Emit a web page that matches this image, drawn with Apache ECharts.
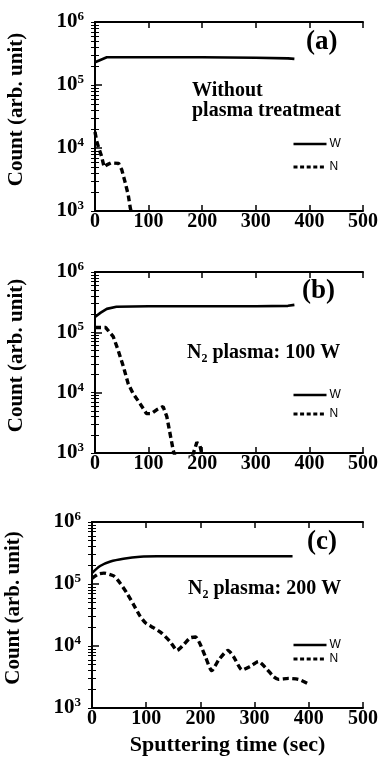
<!DOCTYPE html>
<html>
<head>
<meta charset="utf-8">
<script src="https://cdn.jsdelivr.net/npm/echarts@6/dist/echarts.min.js"></script>
<style>
  html, body { margin: 0; padding: 0; background: #fff; }
  #chart { width: 380px; height: 767px; }
</style>
</head>
<body>
<div id="chart"></div>
<script>
// [sputtering time (sec), count (arb. unit)]
const wA = [[0, 2.3e5], [10, 2.5e5], [22, 2.75e5], [100, 2.75e5], [200, 2.75e5], [300, 2.7e5], [360, 2.65e5], [372, 2.6e5]];
const nA = [[0, 1.8e4], [3, 1.3e4], [7, 1.0e4], [12, 7.5e3], [17, 5.0e3], [22, 5.4e3], [30, 5.8e3], [44, 5.7e3],
            [50, 4.5e3], [56, 2.9e3], [62, 1.8e3], [66, 1.1e3], [70, 800]];

const wB = [[0, 1.8e5], [10, 2.1e5], [22, 2.45e5], [40, 2.65e5], [100, 2.7e5], [200, 2.7e5], [300, 2.7e5], [360, 2.75e5], [372, 2.85e5]];
const nB = [[0, 1.2e5], [20, 1.2e5], [34, 8.5e4], [43, 5.1e4], [53, 2.7e4], [62, 1.4e4], [71, 9.7e3], [84, 6.6e3],
            [96, 4.5e3], [105, 4.5e3], [115, 5.2e3], [127, 5.9e3], [134, 4.0e3], [140, 2.1e3], [146, 1.1e3], [149, 900],
            [165, null],
            [182, 900], [190, 1.5e3], [196, 1.3e3], [200, 900]];

const wC = [[0, 1.5e5], [15, 1.95e5], [34, 2.3e5], [58, 2.55e5], [89, 2.75e5], [120, 2.8e5], [200, 2.8e5], [300, 2.8e5], [370, 2.8e5]];
const nC = [[0, 1.23e5], [12, 1.45e5], [22, 1.5e5], [40, 1.35e5], [52, 1.03e5], [65, 7.0e4], [77, 4.6e4], [89, 3.0e4],
            [100, 2.3e4], [114, 1.96e4], [129, 1.6e4], [144, 1.18e4], [157, 8.5e3], [169, 1.05e4], [181, 1.35e4],
            [191, 1.4e4], [200, 1.05e4], [209, 6.8e3], [221, 4.0e3], [234, 6.0e3], [251, 8.5e3], [261, 6.8e3],
            [277, 4.1e3], [292, 4.7e3], [307, 5.6e3], [323, 4.2e3], [335, 3.2e3], [344, 2.9e3], [363, 3.0e3],
            [381, 2.9e3], [397, 2.5e3]];

const seriesNames = ['W', 'N'];
const xTicks = [0, 100, 200, 300, 400, 500];
const yDecades = [1e3, 1e4, 1e5, 1e6];
const panelTags = ['(a)', '(b)', '(c)'];
const panelNotes = ['Without\nplasma treatmeat', '{n|N}{s|2}{n| plasma: 100 W}', '{n|N}{s|2}{n| plasma: 200 W}'];
const yName = 'Count (arb. unit)';
const xName = 'Sputtering time (sec)';

// minor log ticks (2..9 within each decade), expressed in log10 units
const logMinor = [];
const logAll = [];
for (let e = Math.log10(yDecades[0]); e < Math.log10(yDecades[yDecades.length - 1]); e++) {
  logAll.push(e);
  for (let k = 2; k <= 9; k++) { logMinor.push(e + Math.log10(k)); logAll.push(e + Math.log10(k)); }
}
logAll.push(Math.log10(yDecades[yDecades.length - 1]));

const SERIF = '"Liberation Serif", "Times New Roman", serif';
const SANS = '"Liberation Sans", Arial, sans-serif';

const solidStyle = { color: '#000', width: 2.6, type: 'solid' };
const dashStyle = { color: '#000', width: 3.4, type: [6, 3.5] };

const layout = [
  { grid: { left: 95, top: 22, width: 268, height: 189 }, legendTop: 138, legendGap: 11,
    tag: { left: 306, top: 29 }, note: { left: 192, top: 81 } },
  { grid: { left: 95, top: 272, width: 268, height: 181 }, legendTop: 389, legendGap: 7,
    tag: { left: 302, top: 278 }, note: { left: 187, top: 343 } },
  { grid: { left: 92, top: 522, width: 271, height: 186 }, legendTop: 639, legendGap: 2,
    tag: { left: 307, top: 529 }, note: { left: 188, top: 579 } }
];
const data = [[wA, nA], [wB, nB], [wC, nC]];

const grids = [], xAxes = [], yAxes = [], series = [], legends = [], graphics = [];

layout.forEach((p, i) => {
  grids.push(Object.assign({ show: false, outerBoundsMode: 'none', containLabel: false }, p.grid));

  // bottom axis with labels
  xAxes.push({
    type: 'value', gridIndex: i, position: 'bottom', min: xTicks[0], max: xTicks[xTicks.length - 1], interval: 100,
    axisLine: { show: true, lineStyle: { color: '#000', width: 2 } },
    axisTick: { show: true, inside: true, length: 6, lineStyle: { color: '#000', width: 1.5 } },
    axisLabel: { show: true, margin: 1, color: '#000', fontFamily: SERIF, fontWeight: 'bold', fontSize: 20 },
    splitLine: { show: false },
    name: i === 2 ? xName : '', nameLocation: 'middle', nameGap: 26,
    nameTextStyle: { color: '#000', fontFamily: SERIF, fontWeight: 'bold', fontSize: 22 }
  });
  // top frame edge
  xAxes.push({
    type: 'value', gridIndex: i, position: 'top', min: xTicks[0], max: xTicks[xTicks.length - 1], interval: 100,
    axisLine: { show: true, lineStyle: { color: '#000', width: 2 } },
    axisTick: { show: true, inside: true, length: 6, lineStyle: { color: '#000', width: 1.5 } },
    axisLabel: { show: false }, splitLine: { show: false }
  });

  // main log axis: decade labels and major ticks
  yAxes.push({
    type: 'log', logBase: 10, gridIndex: i, position: 'left', min: yDecades[0], max: yDecades[yDecades.length - 1],
    splitNumber: 3,
    axisLine: { show: true, lineStyle: { color: '#000', width: 2 } },
    axisTick: { show: true, inside: true, length: 7, lineStyle: { color: '#000', width: 1.5 } },
    minorTick: { show: false },
    splitLine: { show: false },
    axisLabel: {
      show: true, margin: 11, color: '#000',
      formatter: v => '{b|10}{e|' + Math.round(Math.log10(v)) + '}',
      rich: {
        b: { fontFamily: SERIF, fontWeight: 'bold', fontSize: 21, lineHeight: 24, color: '#000' },
        e: { fontFamily: SERIF, fontWeight: 'bold', fontSize: 13, lineHeight: 13, verticalAlign: 'top', color: '#000' }
      }
    },
    name: yName, nameLocation: 'middle', nameRotate: 90, nameGap: 68,
    nameTextStyle: { color: '#000', fontFamily: SERIF, fontWeight: 'bold', fontSize: 21, padding: [0, 0, 0, 14] }
  });
  // right frame edge with all log ticks
  yAxes.push({
    type: 'value', gridIndex: i, position: 'right', min: 3, max: 6,
    axisLine: { show: true, lineStyle: { color: '#000', width: 2 } },
    axisTick: { show: true, inside: true, length: 4, customValues: logAll, lineStyle: { color: '#000', width: 1 } },
    axisLabel: { show: false }, splitLine: { show: false }
  });
  // left minor ticks
  yAxes.push({
    type: 'value', gridIndex: i, position: 'left', min: 3, max: 6,
    axisLine: { show: false },
    axisTick: { show: true, inside: true, length: 4, customValues: logMinor, lineStyle: { color: '#000', width: 1 } },
    axisLabel: { show: false }, splitLine: { show: false }
  });

  series.push({
    name: seriesNames[0], type: 'line', xAxisIndex: 2 * i, yAxisIndex: 3 * i,
    data: data[i][0], symbol: 'none', smooth: i === 2 ? 0.3 : false, clip: true,
    lineStyle: solidStyle, itemStyle: { color: '#000' }
  });
  series.push({
    name: seriesNames[1], type: 'line', xAxisIndex: 2 * i, yAxisIndex: 3 * i,
    data: data[i][1], symbol: 'none', smooth: i === 2 ? 0.2 : false, clip: true, connectNulls: false,
    lineStyle: dashStyle, itemStyle: { color: '#000' }
  });

  legends.push({
    data: [
      { name: seriesNames[0], lineStyle: { color: '#000', width: 2.6, type: 'solid' } },
      { name: seriesNames[1], lineStyle: { color: '#000', width: 3, type: [4, 2.6] } }
    ],
    orient: 'vertical', left: 292, top: p.legendTop,
    itemWidth: 33, itemHeight: 14, itemGap: p.legendGap, padding: 0, selectedMode: false,
    itemStyle: { color: 'rgba(0,0,0,0)', borderWidth: 0, opacity: 0 },
    textStyle: { color: '#000', fontFamily: SANS, fontSize: 12, padding: [0, 0, 0, -2] }
  });

  graphics.push({
    type: 'text', left: p.tag.left, top: p.tag.top, silent: true,
    style: { text: panelTags[i], fill: '#000', fontFamily: SERIF, fontWeight: 'bold', fontSize: 27 }
  });
  graphics.push({
    type: 'text', left: p.note.left, top: p.note.top, silent: true,
    style: i === 0
      ? { text: panelNotes[i], fill: '#000', fontFamily: SERIF, fontWeight: 'bold', fontSize: 20, lineHeight: 20 }
      : {
          text: panelNotes[i], fill: '#000',
          rich: {
            n: { fontFamily: SERIF, fontWeight: 'bold', fontSize: 20, lineHeight: 24, fill: '#000' },
            s: { fontFamily: SERIF, fontWeight: 'bold', fontSize: 12, lineHeight: 12, verticalAlign: 'bottom', fill: '#000' }
          }
        }
  });
});

const chart = echarts.init(document.getElementById('chart'), null, { renderer: 'canvas' });
chart.setOption({
  backgroundColor: '#fff',
  animation: false,
  grid: grids,
  xAxis: xAxes,
  yAxis: yAxes,
  legend: legends,
  series: series,
  graphic: graphics
});
</script>
</body>
</html>
